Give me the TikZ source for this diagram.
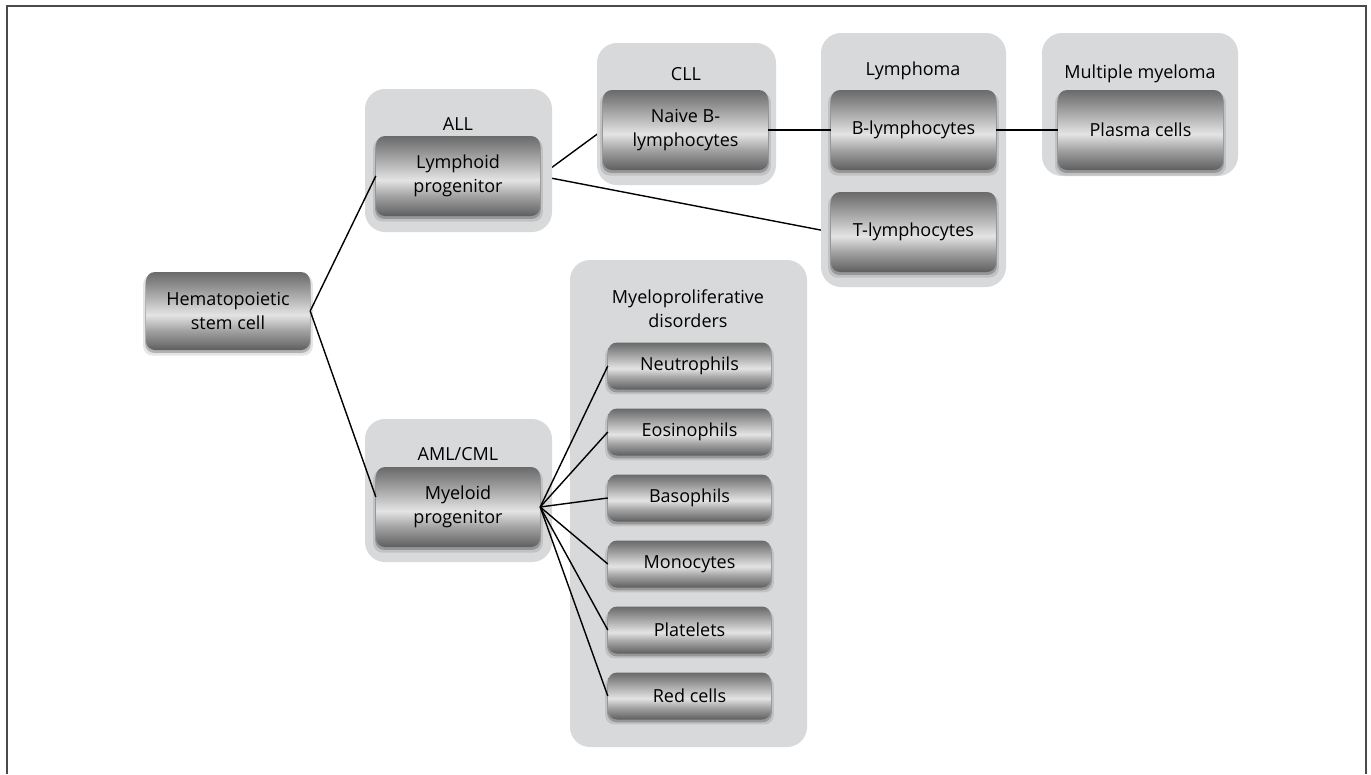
\documentclass[tikz,border=0pt]{standalone}
\usepackage{fontspec}
\setmainfont{Open Sans}
\usetikzlibrary{shadows}
\definecolor{grp}{HTML}{D8D9DA}
\definecolor{framec}{HTML}{4A4A4A}
\definecolor{sa}{HTML}{5E5E5E}
\definecolor{sb}{HTML}{7A7A7A}
\definecolor{sc}{HTML}{A2A2A2}
\definecolor{sd}{HTML}{E4E4E4}
\definecolor{se}{HTML}{B6B6B6}
\definecolor{sf}{HTML}{898989}
\definecolor{sg}{HTML}{6A6A6A}
\pgfdeclareverticalshading{cellshade}{100bp}{color(0bp)=(sa); color(25bp)=(sa); color(30bp)=(sb); color(37.5bp)=(sc); color(47.5bp)=(sd); color(57.5bp)=(se); color(67.5bp)=(sf); color(75bp)=(sg); color(100bp)=(sg)}
\pgfdeclarelayer{back}
\pgfdeclarelayer{mid}
\pgfsetlayers{back,mid,main}
\newcommand\cellfont{\fontsize{18}{24}\selectfont}
\begin{document}
\begin{tikzpicture}[x=1pt,y=-1pt,
  grpbox/.style={fill=grp, rounded corners=20pt, draw=none, inner sep=0pt},
  cellbox/.style={shading=cellshade, rounded corners=9pt, inner sep=0pt,
    minimum width=164pt, minimum height=80pt, align=center, font=\cellfont,
    general shadow={fill=black, opacity=0.10, shadow xshift=0pt, shadow yshift=-4pt, shadow scale=1.035},
    general shadow={fill=black, opacity=0.22, shadow xshift=0pt, shadow yshift=-2.5pt, shadow scale=1.01}},
  smallcell/.style={cellbox, minimum width=163pt, minimum height=47pt},
  glabel/.style={font=\cellfont, align=center, inner sep=0pt},
  conn/.style={draw=black, line width=1.4pt}]
\useasboundingbox (0,0) rectangle (1371,774);
\begin{pgfonlayer}{back}
\fill[white] (0,0) rectangle (1371,774);
\end{pgfonlayer}
\draw[framec, line width=2pt] (7,774) -- (7,6) -- (1366,6) -- (1366,774);

% group boxes
\begin{pgfonlayer}{mid}
\node[grpbox, minimum width=187pt, minimum height=143pt] (gALL) at (458.5,160.5) {};
\node[grpbox, minimum width=179pt, minimum height=142pt] (gCLL) at (686.5,114) {};
\node[grpbox, minimum width=185pt, minimum height=254pt] (gLym) at (913.5,160) {};
\node[grpbox, minimum width=196pt, minimum height=143pt] (gMM) at (1140,104.5) {};
\node[grpbox, minimum width=187pt, minimum height=143pt] (gAML) at (458.5,490.5) {};
\node[grpbox, minimum width=237pt, minimum height=487pt] (gMPD) at (688.5,503.5) {};
\end{pgfonlayer}

% group labels
\node[glabel] (lALL) at (458,124) {ALL};
\node[glabel] (lCLL) at (686,74) {CLL};
\node[glabel] (lLym) at (913,71) {Lymphoma};
\node[glabel] (lMM) at (1140,74) {Multiple myeloma};
\node[glabel] (lAML) at (458,454) {AML/CML};
\node[glabel] (lMPD) at (688,309) {Myeloproliferative\\disorders};

% cells
\node[cellbox, minimum height=78pt] (hsc) at (228,311) {Hematopoietic\\stem cell};
\node[cellbox] (lymph) at (458,176) {Lymphoid\\progenitor};
\node[cellbox, minimum width=165pt] (naive) at (685.5,130) {Naive B-\\lymphocytes};
\node[cellbox, minimum width=165pt] (blym) at (913.5,130) {B-lymphocytes};
\node[cellbox, minimum width=165pt] (tlym) at (913.5,232) {T-lymphocytes};
\node[cellbox, minimum width=165pt] (plasma) at (1140.5,130) {Plasma cells};
\node[cellbox] (myeloid) at (458,507) {Myeloid\\progenitor};
\node[smallcell] (neut) at (689.5,366) {Neutrophils};
\node[smallcell] (eos) at (689.5,432) {Eosinophils};
\node[smallcell] (baso) at (689.5,498) {Basophils};
\node[smallcell] (mono) at (689.5,564) {Monocytes};
\node[smallcell] (plat) at (689.5,630) {Platelets};
\node[smallcell] (red) at (689.5,696) {Red cells};

% connectors hidden under group box
\begin{pgfonlayer}{back}
\draw[conn] (lymph.east) -- (naive.west);
\draw[conn] (lymph.east) -- (tlym.west);
\end{pgfonlayer}

% connectors
\draw[conn] (hsc.east) -- (lymph.west);
\draw[conn] (hsc.east) -- (myeloid.173);
\draw[conn] (naive.east) -- (blym.west);
\draw[conn] (blym.east) -- (plasma.west);
\foreach \c in {neut,eos,baso,mono,plat,red}
  \draw[conn] (myeloid.east) -- (\c.west);
\end{tikzpicture}
\end{document}
